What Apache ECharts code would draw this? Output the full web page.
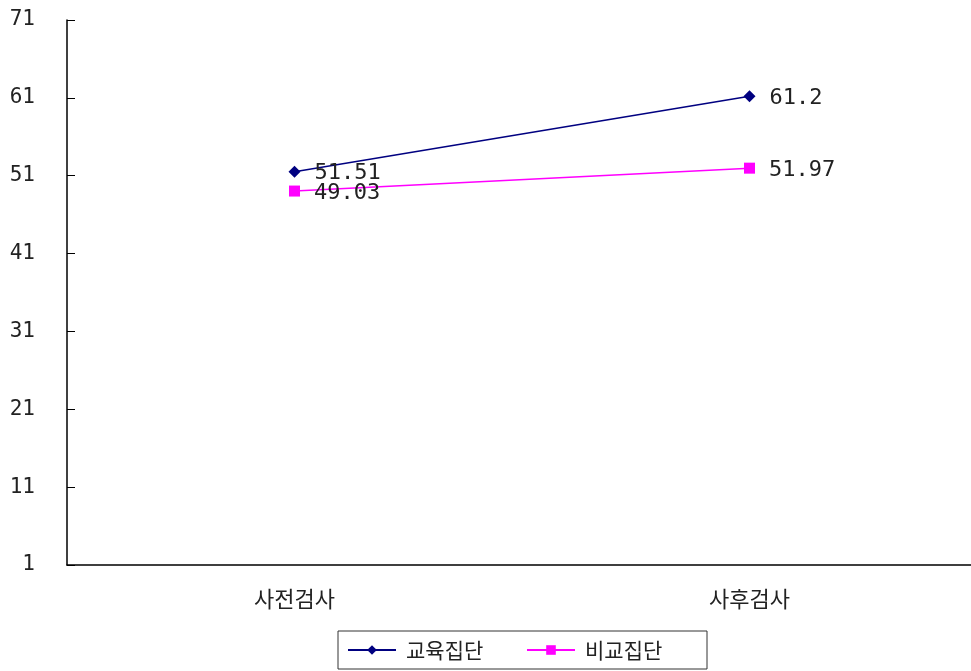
<!DOCTYPE html>
<html><head><meta charset="utf-8">
<script src="https://cdn.jsdelivr.net/npm/echarts@6/dist/echarts.min.js"></script>
<style>html,body{margin:0;padding:0;background:#fff;overflow:hidden}#c{width:977px;height:671px}</style>
</head><body><div id="c"></div>
<script>
const categories = ['사전검사', '사후검사'];
const seriesNames = ['교육집단', '비교집단'];
const eduValues = [51.51, 61.2];
const cmpValues = [49.03, 51.97];
const yMin = 1, yMax = 71, yStep = 10;

const font = '"Noto Sans CJK KR", "Noto Sans", sans-serif';
const numFont = '"DejaVu Sans Mono", monospace';
const chart = echarts.init(document.getElementById('c'));
chart.setOption({
  animation: false,
  grid: { left: 67, top: 20, right: 0, bottom: 106 },
  legend: {
    bottom: 2, left: 338,
    data: seriesNames,
    itemWidth: 48, itemHeight: 12, itemGap: 20,
    borderColor: '#333', borderWidth: 1, borderRadius: 0,
    padding: [6, 22, 6, 9],
    textStyle: { fontFamily: font, fontSize: 21, color: '#222', width: 100, lineHeight: 26, padding: [0, 0, 0, 5] }
  },
  xAxis: {
    type: 'category', data: categories, boundaryGap: true,
    axisLine: { lineStyle: { color: '#000', width: 1.5 } },
    axisTick: { inside: true, length: 8, lineStyle: { color: '#000' } },
    axisLabel: { fontFamily: font, fontSize: 22, color: '#222', margin: 23 }
  },
  yAxis: {
    type: 'value', min: yMin, max: yMax, interval: yStep,
    splitLine: { show: false },
    axisLine: { show: true, lineStyle: { color: '#000', width: 1.5 } },
    axisTick: { show: true, inside: true, length: 8, lineStyle: { color: '#000' } },
    axisLabel: { fontFamily: numFont, fontSize: 21, color: '#222', margin: 32 }
  },
  series: [
    {
      name: seriesNames[0], type: 'line', data: eduValues,
      symbol: 'diamond', symbolSize: 12,
      lineStyle: { color: '#000080', width: 1.5 },
      itemStyle: { color: '#000080' },
      label: { show: true, position: 'right', distance: 14, fontFamily: numFont, fontSize: 22, color: '#222', offset: [0, 2] }
    },
    {
      name: seriesNames[1], type: 'line', data: cmpValues,
      symbol: 'rect', symbolSize: 11,
      lineStyle: { color: '#FF00FF', width: 1.5 },
      itemStyle: { color: '#FF00FF' },
      label: { show: true, position: 'right', distance: 14, fontFamily: numFont, fontSize: 22, color: '#222', offset: [0, 2] }
    }
  ]
});
</script></body></html>
